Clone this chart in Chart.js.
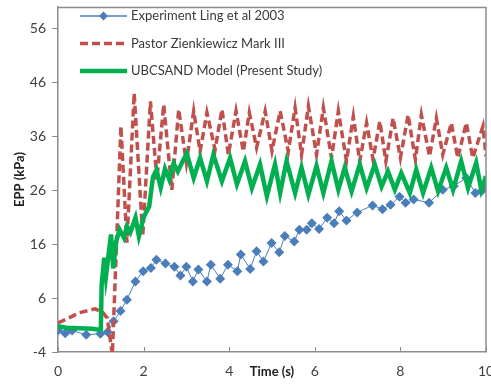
<!DOCTYPE html>
<html>
<head>
<meta charset="utf-8">
<script src="https://cdn.jsdelivr.net/npm/chart.js@4.4.1/dist/chart.umd.min.js"></script>
<style>
  html, body { margin: 0; padding: 0; background: #fff; overflow: hidden; }
  #wrap { width: 491px; height: 385px; position: relative; }
</style>
</head>
<body>
<div id="wrap"><canvas id="epp-chart"></canvas></div>
<script>
// Experiment (Ling et al 2003)
const expTime = [0, 0.17, 0.33, 0.66, 0.99, 1.16, 1.30, 1.46, 1.61, 1.81, 1.99, 2.17, 2.30, 2.51, 2.72, 2.86, 3.00, 3.15, 3.28, 3.48, 3.57, 3.79, 3.97, 4.19, 4.27, 4.49, 4.64, 4.80, 4.99, 5.17, 5.30, 5.52, 5.64, 5.81, 5.93, 6.10, 6.29, 6.45, 6.57, 6.74, 6.99, 7.35, 7.58, 7.77, 7.98, 8.12, 8.31, 8.67, 8.99, 9.25, 9.54, 9.75, 9.89, 10.0];
const expEpp = [0.0, -0.5, 0.0, -0.8, -0.6, -0.3, 1.7, 3.6, 5.7, 9.1, 11.0, 11.6, 13.1, 12.4, 11.8, 10.2, 11.8, 9.1, 11.3, 9.1, 12.2, 9.6, 12.2, 11.0, 14.1, 11.4, 14.7, 12.8, 16.2, 14.5, 17.5, 16.5, 18.7, 18.7, 19.9, 18.8, 20.9, 19.9, 22.1, 20.4, 21.9, 23.2, 22.5, 23.3, 24.8, 23.7, 24.3, 23.7, 26.1, 26.8, 28.3, 25.5, 25.8, 26.5];

// Pastor Zienkiewicz Mark III
const pastorTime = [0, 0.25, 0.5, 0.87, 1.05, 1.15, 1.27, 1.47, 1.61, 1.78, 1.98, 2.16, 2.31, 2.47, 2.66, 2.82, 3.0, 3.17, 3.32, 3.48, 3.67, 3.83, 3.98, 4.16, 4.33, 4.47, 4.64, 4.84, 5.0, 5.19, 5.38, 5.54, 5.69, 5.85, 6.04, 6.2, 6.39, 6.55, 6.74, 6.9, 7.05, 7.21, 7.36, 7.52, 7.66, 7.83, 8.0, 8.18, 8.35, 8.49, 8.68, 8.84, 8.99, 9.19, 9.34, 9.54, 9.69, 9.93, 10.0];
const pastorEpp = [1.4, 2.3, 3.3, 4.0, 3.3, 2.3, -4.5, 37.9, 16.3, 44.0, 17.5, 42.5, 28.0, 41.9, 26.1, 41.0, 31.1, 40.7, 33.2, 40.4, 33.5, 41.0, 32.6, 40.7, 33.2, 40.4, 33.9, 40.7, 33.3, 40.7, 33.2, 41.3, 32.6, 41.6, 32.6, 41.3, 32.0, 40.7, 31.4, 39.7, 31.4, 38.5, 31.7, 38.8, 31.4, 39.4, 32.0, 40.0, 31.7, 40.0, 32.3, 39.4, 32.6, 38.5, 32.0, 38.5, 32.0, 37.9, 32.3];

// UBCSAND model
const ubcTime = [0, 0.2, 0.5, 0.8, 1.0, 1.02, 1.08, 1.12, 1.18, 1.24, 1.29, 1.36, 1.44, 1.54, 1.61, 1.69, 1.81, 1.89, 2.0, 2.13, 2.22, 2.3, 2.4, 2.5, 2.6, 2.7, 2.8, 2.92, 3.01, 3.17, 3.32, 3.48, 3.63, 3.83, 4.02, 4.18, 4.37, 4.53, 4.72, 4.88, 5.07, 5.19, 5.34, 5.54, 5.69, 5.85, 6.04, 6.2, 6.39, 6.55, 6.7, 6.86, 7.05, 7.21, 7.4, 7.56, 7.71, 7.87, 8.02, 8.22, 8.37, 8.53, 8.72, 8.88, 9.07, 9.23, 9.42, 9.58, 9.77, 9.89, 10.0];
const ubcEpp = [0.8, 0.5, 0.4, 0.3, 0.1, 8.5, 13.5, 10.0, 14.0, 17.8, 11.5, 16.5, 18.7, 17.2, 19.3, 18.2, 20.9, 17.5, 21.0, 23.0, 28.5, 29.8, 26.5, 30.0, 28.0, 31.0, 29.5, 31.5, 32.8, 28.3, 32.0, 27.7, 32.6, 27.7, 32.0, 27.1, 31.4, 26.4, 30.8, 24.9, 30.8, 25.5, 31.4, 25.5, 30.2, 25.2, 30.5, 25.5, 31.4, 26.1, 30.2, 25.8, 30.8, 26.4, 30.8, 26.7, 29.5, 26.1, 29.2, 25.5, 29.8, 25.5, 30.2, 25.8, 30.2, 26.1, 31.4, 26.4, 31.1, 26.1, 28.6];

const yTicks = [-4, 6, 16, 26, 36, 46, 56];
const xTicks = [0, 2, 4, 6, 8, 10];

const seriesNames = ["Experiment Ling et al 2003", "Pastor Zienkiewicz Mark III", "UBCSAND Model (Present Study)"];

const BLUE = "#4a7ebb";
const RED = "#c0504d";
const GREEN = "#00b050";
const AXIS = "#8c8c8c";

function pairs(xs, ys) {
    return xs.map((x, i) => ({ x: x, y: ys[i] }));
}

// box on top/right + small inward ticks on the time axis
const framePlugin = {
    id: "frame",
    afterDraw(chart) {
        const { ctx, chartArea: a, scales } = chart;
        ctx.save();
        ctx.strokeStyle = AXIS;
        ctx.lineWidth = 1.5;
        ctx.beginPath();
        ctx.moveTo(a.left, a.top + 0.5);
        ctx.lineTo(a.right, a.top + 0.5);
        ctx.lineTo(a.right, a.bottom);
        ctx.stroke();
        ctx.lineWidth = 1;
        xTicks.forEach(t => {
            const px = Math.round(scales.x.getPixelForValue(t)) + 0.5;
            ctx.beginPath();
            ctx.moveTo(px, a.bottom);
            ctx.lineTo(px, a.bottom - 5);
            ctx.stroke();
        });
        ctx.restore();
    }
};

// legend in the upper left of the plot
const legendPlugin = {
    id: "innerLegend",
    afterDraw(chart) {
        const { ctx } = chart;
        const rows = [
            { y: 16, color: BLUE, width: 1.5, dash: [], marker: true },
            { y: 43.5, color: RED, width: 3.5, dash: [8, 4] },
            { y: 71, color: GREEN, width: 4.5, dash: [] }
        ];
        ctx.save();
        rows.forEach((r, i) => {
            ctx.strokeStyle = r.color;
            ctx.lineWidth = r.width;
            ctx.setLineDash(r.dash);
            ctx.beginPath();
            ctx.moveTo(80, r.y);
            ctx.lineTo(127, r.y);
            ctx.stroke();
            ctx.setLineDash([]);
            if (r.marker) {
                ctx.fillStyle = r.color;
                ctx.beginPath();
                ctx.moveTo(103.5, r.y - 4.5);
                ctx.lineTo(108, r.y);
                ctx.lineTo(103.5, r.y + 4.5);
                ctx.lineTo(99, r.y);
                ctx.closePath();
                ctx.fill();
            }
            ctx.fillStyle = "#3a3a3a";
            ctx.font = "13px Lato";
            ctx.textBaseline = "middle";
            ctx.fillText(seriesNames[i], 131, r.y);
        });
        ctx.restore();
    }
};

const ctx = document.getElementById("epp-chart").getContext("2d");

new Chart(ctx, {
    type: "line",
    data: {
        datasets: [
            {
                label: seriesNames[0],
                data: pairs(expTime, expEpp),
                borderColor: BLUE,
                backgroundColor: BLUE,
                borderWidth: 1,
                pointStyle: "rectRot",
                pointRadius: 5,
                pointBorderWidth: 0,
                tension: 0,
                order: 3
            },
            {
                label: seriesNames[1],
                data: pairs(pastorTime, pastorEpp),
                borderColor: RED,
                borderWidth: 3.5,
                borderDash: [8, 4],
                pointRadius: 0,
                tension: 0,
                order: 2
            },
            {
                label: seriesNames[2],
                data: pairs(ubcTime, ubcEpp),
                borderColor: GREEN,
                borderWidth: 4.5,
                pointRadius: 0,
                tension: 0,
                order: 1
            }
        ]
    },
    options: {
        responsive: true,
        maintainAspectRatio: false,
        animation: false,
        layout: { padding: { top: 7, right: 2, left: 0, bottom: 0 } },
        plugins: {
            legend: { display: false },
            tooltip: { enabled: false }
        },
        scales: {
            x: {
                type: "linear",
                min: 0,
                max: 10,
                afterBuildTicks(scale) { scale.ticks = xTicks.map(v => ({ value: v })); },
                afterFit(scale) {
                    scale.height = 33;
                    scale.paddingLeft = 0;
                    scale.paddingRight = 0;
                },
                border: { color: AXIS, width: 1.5 },
                grid: { display: true, drawOnChartArea: false, drawTicks: false },
                ticks: { color: "#404040", font: { family: "Lato", size: 14 }, padding: 11 },
                title: {
                    display: true,
                    text: "Time (s)",
                    color: "#222",
                    font: { family: "Lato", size: 13, weight: "bold" },
                    padding: { top: -30, bottom: 5 }
                }
            },
            y: {
                min: -4,
                max: 60,
                afterBuildTicks(scale) { scale.ticks = yTicks.map(v => ({ value: v })); },
                afterFit(scale) {
                    scale.width = 58;
                    scale.paddingTop = 0;
                    scale.paddingBottom = 0;
                },
                border: { color: AXIS, width: 1.5 },
                grid: { drawOnChartArea: false, drawTicks: true, tickLength: 6, color: AXIS },
                ticks: { color: "#404040", font: { family: "Lato", size: 14 }, padding: 6 },
                title: {
                    display: true,
                    text: "EPP (kPa)",
                    color: "#222",
                    font: { family: "Lato", size: 13, weight: "bold" },
                    padding: { top: 12, bottom: 0 }
                }
            }
        }
    },
    plugins: [framePlugin, legendPlugin]
});
</script>
</body>
</html>
